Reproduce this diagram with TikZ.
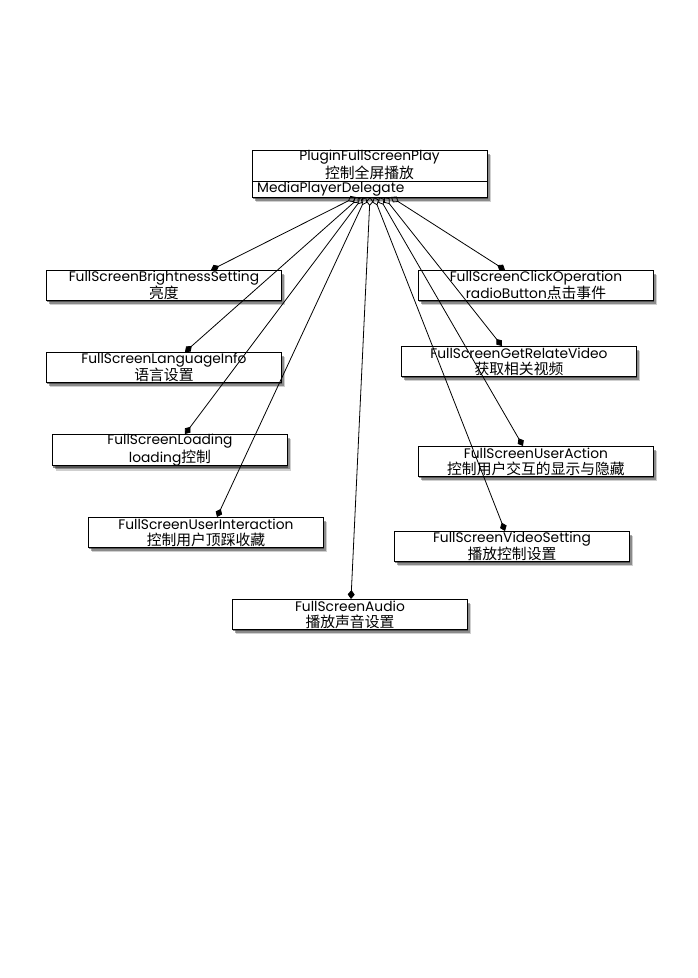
\documentclass[tikz,border=0pt]{standalone}
\usepackage{fontspec}
\setmainfont{Poppins}
\newfontfamily\cjk{Noto Sans CJK SC}
\newcommand\zh[1]{{\cjk\fontsize{14.8}{16}\selectfont #1}}
\usetikzlibrary{arrows.meta,shadows,calc}
\begin{document}
\begin{tikzpicture}[x=1pt,y=-1pt,
  softshadow/.style={
    drop shadow={shadow xshift=1pt,shadow yshift=-2pt,opacity=0.55,fill=black!85},
    drop shadow={shadow xshift=2.5pt,shadow yshift=-3.5pt,opacity=0.4,fill=black!85},
    drop shadow={shadow xshift=4pt,shadow yshift=-5pt,opacity=0.22,fill=black!85}},
  box/.style={draw, line width=0.9pt, fill=white, minimum width=235pt, minimum height=30pt,
    inner sep=0pt, align=center, anchor=north west,
    font=\fontsize{13.8}{16}\selectfont, softshadow},
  lbl/.style={inner sep=0pt, align=center, font=\fontsize{13.8}{16}\selectfont},
  link/.style={line width=0.8pt, {Diamond[open,length=9pt,width=7pt]}-{Diamond[length=9pt,width=7pt]}}]
\useasboundingbox[fill=white] (0,0) rectangle (698,978);

% main class
\node[box, minimum height=47pt] (plugin) at (252,150) {};
\draw[line width=0.9pt] ($(plugin.north west)+(0,31)$) -- ($(plugin.north east)+(0,31)$);
\node[lbl] (title) at (369.5,165) {PluginFullScreenPlay\\\zh{控制全屏播放}};
\node[lbl, anchor=west] (deleg) at (257,189) {MediaPlayerDelegate};

% children
\node[box] (bright) at (46,270) {FullScreenBrightnessSetting\\\zh{亮度}};
\node[box] (lang) at (46,352) {FullScreenLanguageInfo\\\zh{语言设置}};
\node[box] (load) at (52,434) {FullScreenLoading\\loading\zh{控制}};
\node[box] (inter) at (88,517) {FullScreenUserInteraction\\\zh{控制用户顶踩收藏}};
\node[box] (audio) at (232,599) {FullScreenAudio\\\zh{播放声音设置}};
\node[box] (click) at (418,270) {FullScreenClickOperation\\radioButton\zh{点击事件}};
\node[box] (relate) at (401,346) {FullScreenGetRelateVideo\\\zh{获取相关视频}};
\node[box] (action) at (418,446) {FullScreenUserAction\\\zh{控制用户交互的显示与隐藏}};
\node[box] (video) at (394,531) {FullScreenVideoSetting\\\zh{播放控制设置}};

% start points on the delegate compartment
\coordinate (s1) at (356,197);
\coordinate (s2) at (360,197);
\coordinate (s3) at (363,197);
\coordinate (s4) at (366,197);
\coordinate (s5) at (370,197);
\coordinate (s6) at (374,197);
\coordinate (s7) at (379,197);
\coordinate (s8) at (384,197);
\coordinate (s9) at (391,197);

\draw[link] (s1) -- ($(bright.north west)+(165,0)$);
\draw[link] (s2) -- ($(lang.north west)+(139,0)$);
\draw[link] (s3) -- ($(load.north west)+(133,0)$);
\draw[link] (s4) -- ($(inter.north west)+(129,0)$);
\draw[link] (s5) -- ($(audio.north west)+(119,0)$);
\draw[link] (s6) -- ($(video.north west)+(111,0)$);
\draw[link] (s7) -- ($(action.north west)+(105,0)$);
\draw[link] (s8) -- ($(relate.north west)+(101,0)$);
\draw[link] (s9) -- ($(click.north west)+(87,0)$);
\end{tikzpicture}
\end{document}
